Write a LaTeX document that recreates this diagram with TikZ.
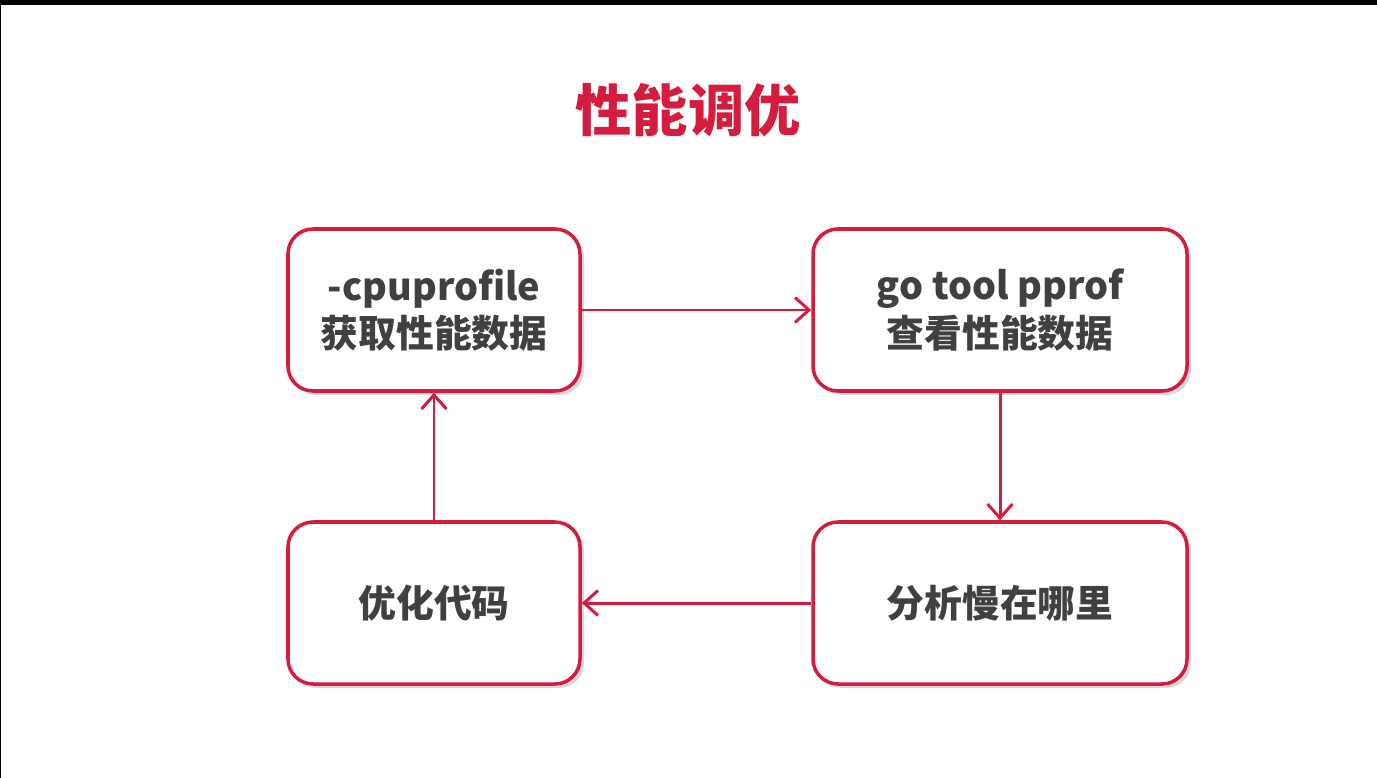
\documentclass[tikz,border=0pt]{standalone}
\usepackage{fontspec}
\setmainfont{Noto Sans CJK SC}
\usepackage{xcolor}
\usepackage{tikz}
\usetikzlibrary{arrows.meta,shadows}

\definecolor{slidered}{RGB}{214,28,62}
\definecolor{textgray}{RGB}{64,64,64}

\begin{document}
\begin{tikzpicture}[
    stagebox/.style={draw=slidered, line width=2pt, rectangle, rounded corners=0.5cm, fill=white,
        minimum height=3.24cm, align=center, font=\fontsize{21.5}{27}\selectfont\bfseries, text=textgray,
        drop shadow={shadow xshift=0.08cm, shadow yshift=-0.08cm, opacity=0.25, fill=black!60}},
    flow/.style={-{Straight Barb[length=0.28cm, width=0.5cm, line width=1.7pt]}, line width=1.7pt, draw=slidered}
]
        % page frame
        \useasboundingbox (0,0) rectangle (27.54,-15.56);
        \fill[white] (0,0) rectangle (27.54,-15.56);
        \fill[black] (0,0) rectangle (27.54,-0.1);
        \fill[black] (0,0) rectangle (0.03,-15.56);

        \node[text=slidered, font=\fontsize{32}{36}\selectfont\bfseries] (title) at (13.76,-2.2) {性能调优};

        \node[stagebox, minimum width=5.84cm] (profile) at (8.68,-6.2) {-cpuprofile\\获取性能数据};
        \node[stagebox, minimum width=7.48cm] (pprof) at (20.0,-6.2) {go tool pprof\\查看性能数据};
        \node[stagebox, minimum width=7.48cm] (analyze) at (20.0,-12.06) {分析慢在哪里};
        \node[stagebox, minimum width=5.84cm] (optimize) at (8.68,-12.06) {优化代码};

        \draw[flow] (profile) -- (pprof);
        \draw[flow] (pprof) -- (analyze);
        \draw[flow] (analyze) -- (optimize);
        \draw[flow] (optimize) -- (profile);
    \end{tikzpicture}
\end{document}
